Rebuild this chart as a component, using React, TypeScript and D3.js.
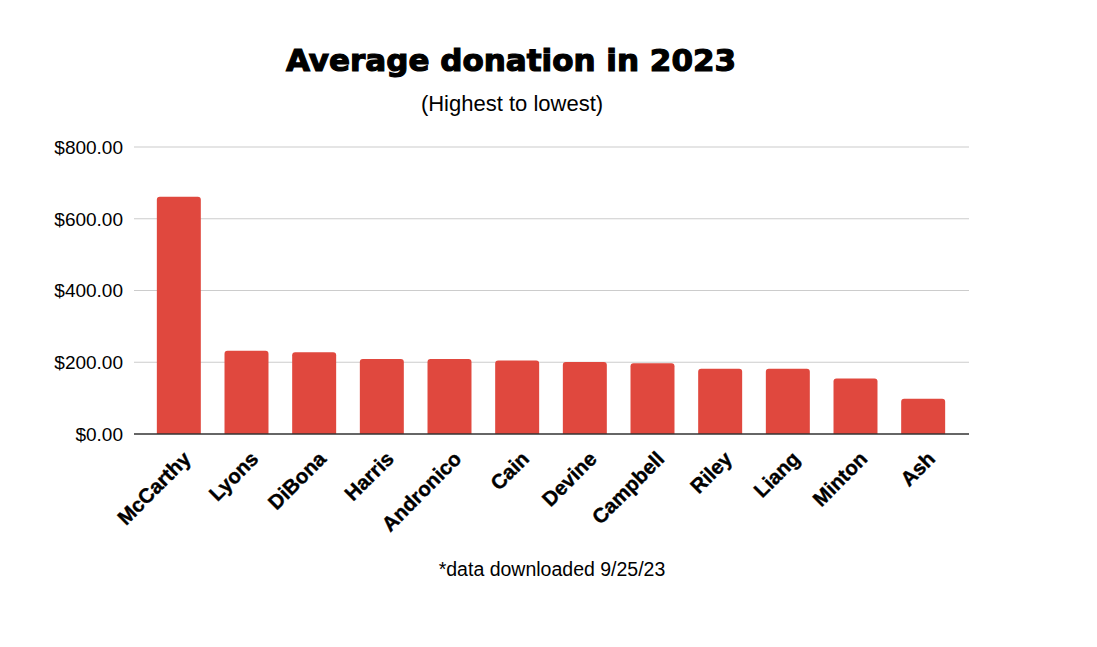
import React from "react";
import * as d3 from "d3";

const names = ["McCarthy", "Lyons", "DiBona", "Harris", "Andronico", "Cain", "Devine", "Campbell", "Riley", "Liang", "Minton", "Ash"];
const donations = [661, 232, 228, 209, 209, 205, 201, 197, 182, 182, 155, 98];
const yTicks = [0, 200, 400, 600, 800];

const W = 1097, H = 647;
const plotLeft = 145, plotRight = 957, gridLeft = 134, gridRight = 969;
const plotTop = 147, plotBottom = 434;

export default function App() {
  const x = d3.scaleBand<string>().domain(names).range([plotLeft, plotRight]).paddingInner(0.35).paddingOuter(0.175);
  const y = d3.scaleLinear().domain([0, 800]).range([plotBottom, plotTop]);
  const fmt = (v: number) => "$" + d3.format(",.2f")(v);
  const r = 3;
  const barPath = (x0: number, y0: number, w: number, h: number) =>
    `M${x0},${y0 + h}V${y0 + r}Q${x0},${y0} ${x0 + r},${y0}H${x0 + w - r}Q${x0 + w},${y0} ${x0 + w},${y0 + r}V${y0 + h}Z`;
  return (
    <svg width={W} height={H} style={{ position: "absolute", left: 0, top: 0, background: "#fff" }} fontFamily="'Liberation Sans', Arial, sans-serif">
      <text x={511} y={71} textAnchor="middle" fontFamily="'DejaVu Sans', sans-serif" fontWeight={900} fontSize={31} fill="#000" stroke="#000" strokeWidth={1.2}>Average donation in 2023</text>
      <text x={512} y={111} textAnchor="middle" fontSize={22} fill="#000">(Highest to lowest)</text>
      {yTicks.map((t) => (
        <g key={t}>
          {t !== 0 && <line x1={gridLeft} x2={gridRight} y1={y(t)} y2={y(t)} stroke="#cccccc" strokeWidth={1.2} />}
          <text x={123} y={y(t)} dy="0.36em" textAnchor="end" fontSize={19} fill="#000">{fmt(t)}</text>
        </g>
      ))}
      {names.map((n, i) => (
        <path key={n} d={barPath(x(n)!, y(donations[i]), x.bandwidth(), plotBottom - y(donations[i]))} fill="#e0483e" />
      ))}
      <line x1={gridLeft} x2={gridRight} y1={plotBottom} y2={plotBottom} stroke="#333" strokeWidth={1.5} />
      {names.map((n) => {
        const cx = x(n)! + x.bandwidth() / 2;
        return (
          <text key={n} transform={`translate(${cx + 3},${plotBottom + 16}) rotate(-45)`} dy="0.7em" textAnchor="end" fontWeight="bold" fontSize={20.5} fill="#000" stroke="#000" strokeWidth={0.4}>{n}</text>
        );
      })}
      <text x={552} y={576} textAnchor="middle" fontSize={19.5} fill="#000">*data downloaded 9/25/23</text>
    </svg>
  );
}
